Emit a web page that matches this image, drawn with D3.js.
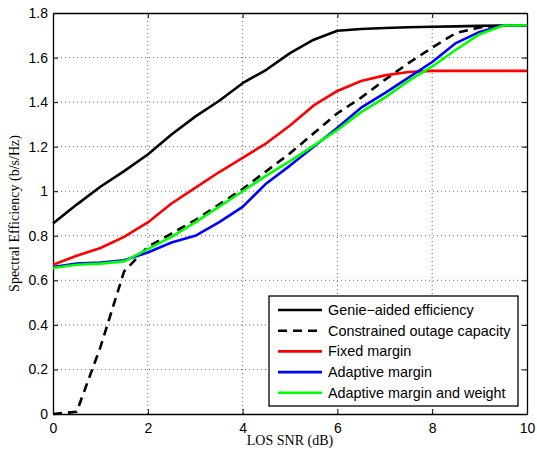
<!DOCTYPE html>
<html>
<head>
<meta charset="utf-8">
<script src="https://cdn.jsdelivr.net/npm/d3@7"></script>
<style>
  body { margin: 0; background: #fff; }
  .tick text { font-family: "Liberation Sans", Arial, sans-serif; font-size: 14px; fill: #000; }
</style>
</head>
<body>
<div id="chart"></div>
<script>
var snr = [0, 0.5, 1, 1.5, 2, 2.5, 3, 3.5, 4, 4.5, 5, 5.5, 6, 6.5, 7, 7.5, 8, 8.5, 9, 9.5, 10];

var genie    = [0.855, 0.94, 1.02, 1.09, 1.165, 1.255, 1.335, 1.405, 1.485, 1.545, 1.62, 1.68, 1.72, 1.728, 1.733, 1.736, 1.738, 1.74, 1.742, 1.744, 1.745];
var outage   = [0, 0.01, 0.3, 0.64, 0.75, 0.81, 0.87, 0.94, 1.01, 1.09, 1.17, 1.26, 1.35, 1.42, 1.5, 1.575, 1.645, 1.71, 1.735, 1.744, 1.745];
var fixed    = [0.67, 0.71, 0.745, 0.795, 0.86, 0.945, 1.015, 1.085, 1.15, 1.215, 1.295, 1.385, 1.45, 1.495, 1.52, 1.535, 1.54, 1.54, 1.54, 1.54, 1.54];
var adaptive = [0.66, 0.675, 0.68, 0.69, 0.725, 0.77, 0.8, 0.86, 0.93, 1.035, 1.115, 1.2, 1.285, 1.375, 1.44, 1.51, 1.58, 1.665, 1.715, 1.745, 1.745];
var adaptiveW = [0.655, 0.67, 0.675, 0.685, 0.74, 0.795, 0.86, 0.93, 1.0, 1.07, 1.135, 1.205, 1.275, 1.355, 1.42, 1.495, 1.56, 1.635, 1.705, 1.744, 1.745];

var xTicks = [0, 2, 4, 6, 8, 10];
var yTicks = [0, 0.2, 0.4, 0.6, 0.8, 1, 1.2, 1.4, 1.6, 1.8];

var seriesNames = ["Genie\u2212aided efficiency", "Constrained outage capacity", "Fixed margin", "Adaptive margin", "Adaptive margin and weight"];
var seriesData = [genie, outage, fixed, adaptive, adaptiveW];
var seriesColors = ["#000000", "#000000", "#ff0000", "#0000ff", "#00ff00"];
var seriesDash = [null, "9,6", null, null, null];

var margin = {top: 13, right: 10, bottom: 39, left: 53};
var pw = 474, ph = 401;

var xScale = d3.scaleLinear().domain([0, 10]).range([0, pw]);
var yScale = d3.scaleLinear().domain([0, 1.8]).range([ph, 0]);

var svg = d3.select("#chart").append("svg")
    .attr("width", 537)
    .attr("height", 453)
  .append("g")
    .attr("transform", "translate(" + margin.left + "," + margin.top + ")");

// grid
svg.append("g").selectAll("line").data(xTicks.slice(1, -1)).enter().append("line")
    .attr("x1", function(d) { return xScale(d); }).attr("x2", function(d) { return xScale(d); })
    .attr("y1", 0).attr("y2", ph)
    .attr("stroke", "#666").attr("stroke-width", 1).attr("stroke-dasharray", "1,3");
svg.append("g").selectAll("line").data(yTicks.slice(1, -1)).enter().append("line")
    .attr("y1", function(d) { return yScale(d); }).attr("y2", function(d) { return yScale(d); })
    .attr("x1", 0).attr("x2", pw)
    .attr("stroke", "#666").attr("stroke-width", 1).attr("stroke-dasharray", "1,3");

// axes
svg.append("g").attr("transform", "translate(0," + ph + ")")
    .call(d3.axisBottom(xScale).tickValues(xTicks).tickSizeInner(-5).tickSizeOuter(0).tickPadding(9).tickFormat(d3.format("d")));
svg.append("g")
    .call(d3.axisLeft(yScale).tickValues(yTicks).tickSizeInner(-5).tickSizeOuter(0).tickPadding(5).tickFormat(function(d) { return d3.format("")(+d.toFixed(1)); }));
svg.append("g")
    .call(d3.axisTop(xScale).tickValues(xTicks).tickSizeInner(-5).tickSizeOuter(0).tickFormat(""));
svg.append("g").attr("transform", "translate(" + pw + ",0)")
    .call(d3.axisRight(yScale).tickValues(yTicks).tickSizeInner(-5).tickSizeOuter(0).tickFormat(""));
svg.selectAll(".domain").attr("stroke", "#000").attr("stroke-width", 1.3);
svg.selectAll(".tick line").attr("stroke", "#000");

// lines
var line = d3.line()
    .x(function(d, i) { return xScale(snr[i]); })
    .y(function(d) { return yScale(d); });

seriesData.forEach(function(s, k) {
  svg.append("path")
      .datum(s)
      .attr("fill", "none")
      .attr("stroke", seriesColors[k])
      .attr("stroke-width", 2.6)
      .attr("stroke-dasharray", seriesDash[k])
      .attr("stroke-linejoin", "round")
      .attr("d", line);
});

// labels
svg.append("text")
    .attr("text-anchor", "middle")
    .attr("x", pw / 2)
    .attr("y", ph + 31)
    .style("font-family", "'Liberation Serif', 'Times New Roman', serif")
    .style("font-size", "14px")
    .text("LOS SNR (dB)");

svg.append("text")
    .attr("text-anchor", "middle")
    .attr("transform", "rotate(-90)")
    .attr("x", -ph / 2)
    .attr("y", -34)
    .style("font-family", "'Liberation Serif', 'Times New Roman', serif")
    .style("font-size", "14px")
    .text("Spectral Efficiency (b/s/Hz)");

// legend
var lg = svg.append("g").attr("transform", "translate(216,283)");
lg.append("rect").attr("x", 0).attr("y", 0).attr("width", 249).attr("height", 110)
    .attr("fill", "#fff").attr("stroke", "#000").attr("stroke-width", 1.3);
seriesNames.forEach(function(n, k) {
  var yy = 14 + k * 20.7;
  lg.append("line").attr("x1", 9).attr("x2", 53).attr("y1", yy).attr("y2", yy)
      .attr("stroke", seriesColors[k]).attr("stroke-width", 2.6).attr("stroke-dasharray", seriesDash[k]);
  lg.append("text").attr("x", 59).attr("y", yy + 5)
      .style("font-family", "'Liberation Sans', Arial, sans-serif").style("font-size", "14.4px")
      .text(n);
});
</script>
</body>
</html>
